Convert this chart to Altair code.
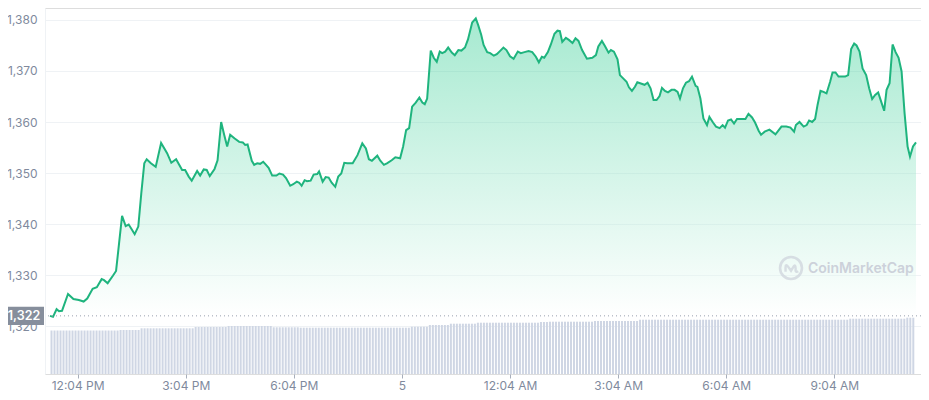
import altair as alt
import pandas as pd

# ---- price series (minutes since 11:18 AM, price in USD) ----
times = [0,5,11,15,20,30,39,48,56,62,71,78,86,90,96,105,110,115,120,126,131,137,141,147,152,157,161,168,176,185,195,202,210,220,225,231,236,245,250,256,261,266,274,279,285,290,295,300,307,315,321,325,329,336,340,345,350,355,359,364,370,377,382,388,393,400,405,411,415,419,424,428,434,439,445,448,454,459,464,469,475,480,485,490,495,504,512,520,526,531,536,545,550,556,561,569,575,583,588,593,598,603,609,615,620,624,628,634,639,644,649,653,658,663,669,674,680,685,691,696,703,709,713,718,722,728,733,739,744,750,755,760,766,772,779,784,790,797,803,809,814,819,823,829,834,840,845,849,853,859,864,870,875,880,886,894,903,909,913,919,924,930,934,939,945,949,954,960,964,969,974,978,985,990,995,1000,1005,1010,1015,1019,1024,1029,1035,1040,1045,1049,1054,1059,1064,1069,1075,1078,1083,1088,1094,1098,1104,1109,1115,1120,1124,1129,1134,1139,1144,1151,1158,1163,1169,1174,1180,1184,1190,1198,1208,1218,1226,1233,1239,1242,1248,1255,1260,1264,1269,1274,1278,1283,1288,1293,1299,1303,1308,1313,1319,1324,1329,1331,1334,1339,1343,1348,1353,1359,1364,1369,1374,1379,1384,1389,1393,1398,1403,1408,1413,1418,1423,1428,1432,1437,1442]
prices = [1322.0,1321.8,1323.3,1322.9,1323.0,1326.3,1325.3,1325.1,1324.8,1325.4,1327.3,1327.6,1329.2,1329.0,1328.4,1329.9,1330.8,1336.2,1341.6,1339.6,1339.9,1338.8,1338.0,1339.5,1346.0,1351.9,1352.7,1351.9,1351.2,1355.9,1353.9,1352.0,1352.7,1350.6,1350.6,1349.3,1348.5,1350.4,1349.5,1350.7,1350.6,1349.4,1350.8,1352.5,1360.0,1357.5,1355.2,1357.5,1356.8,1356.1,1356.0,1355.5,1355.6,1352.4,1351.6,1351.9,1351.8,1352.2,1351.7,1351.0,1349.5,1349.5,1349.9,1349.7,1349.0,1347.5,1347.8,1348.3,1348.1,1347.5,1348.6,1348.4,1348.5,1349.7,1349.8,1350.3,1348.3,1349.2,1349.1,1348.1,1347.3,1349.3,1349.9,1352.0,1351.9,1351.9,1353.5,1355.8,1354.8,1352.7,1352.4,1353.4,1352.4,1351.6,1351.9,1352.5,1353.1,1352.9,1355.2,1358.4,1358.8,1363.0,1363.8,1364.8,1363.8,1363.5,1364.6,1374.0,1372.6,1371.8,1373.8,1373.5,1373.8,1374.6,1373.6,1373.1,1374.1,1374.0,1374.6,1376.2,1379.5,1380.3,1379.0,1377.1,1375.1,1373.7,1373.5,1373.0,1373.3,1374.0,1374.6,1374.1,1372.9,1372.4,1373.8,1373.5,1373.7,1373.9,1373.7,1372.8,1371.7,1372.8,1372.6,1373.7,1375.2,1377.3,1377.9,1377.8,1375.7,1376.5,1376.1,1375.5,1376.4,1375.9,1374.1,1372.4,1372.6,1373.1,1374.8,1375.9,1374.9,1373.6,1374.1,1373.8,1372.3,1369.2,1368.6,1367.9,1366.8,1366.1,1366.9,1367.8,1367.5,1367.3,1367.7,1366.6,1364.3,1364.3,1365.1,1366.7,1366.1,1365.8,1366.3,1366.3,1365.9,1364.6,1366.6,1367.7,1368.0,1368.9,1367.1,1366.9,1364.6,1360.7,1359.4,1361.0,1359.9,1359.1,1358.8,1359.4,1358.9,1360.3,1360.5,1359.7,1360.6,1360.6,1360.6,1361.6,1360.9,1359.9,1358.3,1357.5,1358.1,1358.5,1357.6,1359.1,1359.1,1358.9,1358.1,1359.4,1360.0,1359.1,1359.4,1360.3,1360.0,1360.6,1363.3,1366.1,1365.9,1365.6,1367.9,1369.7,1369.7,1368.9,1368.9,1368.9,1369.2,1371.2,1374.3,1375.4,1375.0,1373.8,1370.5,1369.2,1366.6,1364.5,1365.3,1365.8,1364.0,1362.2,1366.3,1367.6,1375.2,1373.7,1372.6,1369.9,1361.7,1355.2,1353.2,1355.2,1356.0]

# ---- volume bars (5-minute bars, run lengths and relative volume) ----
vol_counts = [23, 7, 18, 11, 15, 9, 37, 6, 7, 9, 21, 3, 15, 15, 70, 19, 3]
vol_values = [4.35, 4.40, 4.57, 4.70, 4.80, 4.67, 4.63, 4.73, 4.90, 5.03, 5.13, 5.20, 5.23, 5.30, 5.43, 5.53, 5.63]

# ---- axis ticks ----
tick_minutes = [46, 226, 406, 586, 766, 946, 1126, 1306]
tick_labels = ["12:04 PM", "3:04 PM", "6:04 PM", "5", "12:04 AM", "3:04 AM", "6:04 AM", "9:04 AM"]
y_ticks = [1320, 1330, 1340, 1350, 1360, 1370, 1380]
ref_price = 1322

price_df = pd.DataFrame({"t": times, "p": prices})
vt, vv = [], []
i = 0
for c, v in zip(vol_counts, vol_values):
    for _ in range(c):
        vt.append(2.5 + 5 * i)
        vv.append(v)
        i += 1
vol_df = pd.DataFrame({"t": vt, "v": vv})
one = pd.DataFrame({"a": [0]})

label_expr = "[" + ",".join("'%s'" % s for s in tick_labels) + "][round((datum.value-46)/180)]"
GREY = "#808a9d"

X = alt.X("t:Q", scale=alt.Scale(domain=[0, 1442], nice=False, zero=False),
          axis=alt.Axis(values=tick_minutes, labelExpr=label_expr, grid=False, domain=False,
                        tickColor="#a7aebb", tickSize=4, labelPadding=2, labelFontSize=12,
                        labelColor=GREY, title=None, labelFlush=False))
Y = alt.Y("p:Q", scale=alt.Scale(domain=[1310.6, 1382.35], nice=False, zero=False),
          axis=alt.Axis(values=y_ticks, labelExpr="format(datum.value, ',')", grid=True,
                        gridColor="#eff2f5", domain=True, domainColor="#eff2f5", ticks=False,
                        labelPadding=8, labelFontSize=12, labelColor=GREY, title=None))

vol = alt.Chart(vol_df).mark_bar(width=2, color="#cfd6e4").encode(
    x=X, y=alt.Y("v:Q", scale=alt.Scale(domain=[0, 36.6]), axis=None))

grad = alt.Gradient(gradient="linear",
                    stops=[alt.GradientStop(color="#ffffff", offset=0),
                           alt.GradientStop(color="#16c784", offset=1)],
                    x1=1, x2=1, y1=1, y2=0)
area = alt.Chart(price_df).mark_area(color=grad, opacity=0.38).encode(
    x=X, y=Y, y2=alt.datum(ref_price))
line = alt.Chart(price_df).mark_line(color="#1fb47e", strokeWidth=2).encode(x=X, y=Y)
rule = alt.Chart(one).mark_rule(color="#98a0ae", strokeDash=[1, 3], strokeWidth=1).encode(
    y=alt.YDatum(ref_price))
box = alt.Chart(one).mark_rect(color="#868e9c").encode(
    x=alt.value(-37), x2=alt.value(-1),
    y=alt.YDatum(ref_price + 1.8), y2=alt.datum(ref_price - 1.8))
box_text = alt.Chart(one).mark_text(color="white", fontSize=12.5, fontWeight=600,
                                    font="Inter", align="center", baseline="middle").encode(
    x=alt.value(-21), y=alt.YDatum(ref_price), text=alt.value("1,322"))

price_layer = alt.layer(area, line, rule, box, box_text)

logo_ring = alt.Chart(one).mark_point(shape="circle", size=480, filled=False,
                                      color="#cdd2db", strokeWidth=2.6).encode(
    x=alt.value(746), y=alt.value(260))
logo_wave = alt.Chart(one).mark_point(
    shape="M -0.5 0.35 L -0.5 -0.05 Q -0.5 -0.45 -0.25 -0.1 L 0 0.25 L 0.22 -0.1 Q 0.42 -0.4 0.42 0.05 L 0.42 0.25 Q 0.48 0.42 0.66 0.3",
    size=480, filled=False, color="#cdd2db", strokeWidth=2.4).encode(
    x=alt.value(746), y=alt.value(260))
wm_text = alt.Chart(one).mark_text(text="CoinMarketCap", color="#ccd1da", fontSize=14,
                                   fontWeight=600, font="Inter", align="left",
                                   baseline="middle").encode(
    x=alt.value(763), y=alt.value(261))

chart = alt.layer(vol, price_layer, logo_ring, logo_wave, wm_text).resolve_scale(
    y="independent"
).properties(
    width=876, height=366,
    padding={"left": 37, "top": 0, "right": 0, "bottom": 18},
    autosize=alt.AutoSizeParams(type="none"),
    background="white",
).configure_view(stroke=None).configure(font="Inter")

chart.save("out.html", embed_options={"renderer": "svg", "actions": False})
